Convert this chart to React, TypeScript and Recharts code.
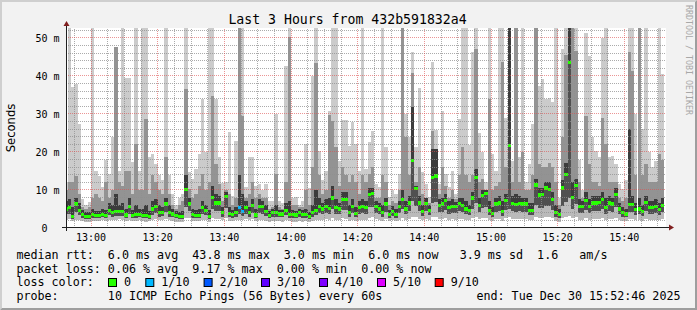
import React from 'react';
import { ComposedChart, Bar, Cell, XAxis, YAxis, CartesianGrid, ReferenceLine } from 'recharts';

// one value per minute, 12:52:30 .. 15:52:30 (ms)
const median = [
  5.0, 5.3, 3.0, 6.3, 4.7, 3.5, 3.1, 3.0, 3.5, 3.2,
  3.2, 3.6, 3.3, 4.7, 4.1, 4.3, 4.3, 4.3, 3.4, 5.7,
  3.2, 3.6, 3.6, 3.3, 3.2, 3.1, 5.0, 5.7, 4.1, 4.1,
  6.3, 4.1, 3.7, 3.3, 3.1, 3.1, 10.1, 6.3, 3.5, 3.3,
  3.3, 5.4, 4.6, 3.1, 8.1, 6.6, 6.6, 4.1, 8.3, 3.9,
  3.5, 4.1, 5.3, 4.4, 5.4, 4.1, 5.9, 3.4, 5.6, 5.6,
  4.3, 3.3, 4.0, 4.0, 3.7, 3.7, 4.6, 3.5, 3.5, 3.4,
  4.0, 3.6, 3.6, 3.1, 4.1, 4.6, 5.7, 5.0, 5.6, 5.2,
  7.9, 5.4, 5.0, 7.5, 7.4, 4.1, 5.6, 3.9, 5.3, 5.6,
  5.4, 8.8, 9.1, 5.6, 5.0, 4.1, 6.3, 3.5, 4.4, 3.5,
  5.6, 7.6, 5.0, 6.6, 17.7, 10.3, 6.6, 4.4, 6.5, 4.7,
  13.2, 13.7, 5.9, 6.3, 7.2, 5.4, 5.6, 5.6, 6.5, 5.9,
  5.0, 4.6, 7.9, 13.2, 5.9, 8.5, 9.0, 4.6, 3.9, 6.3,
  6.6, 4.3, 7.2, 21.7, 6.5, 6.1, 6.5, 6.3, 6.3, 4.7,
  4.7, 11.3, 8.7, 8.8, 10.5, 10.1, 7.4, 4.1, 3.5, 10.5,
  14.0, 43.6, 8.1, 11.2, 5.6, 5.7, 7.2, 5.7, 6.6, 6.6,
  6.8, 7.4, 5.4, 6.6, 6.3, 8.8, 5.0, 4.1, 3.7, 6.1,
  6.1, 4.8, 5.0, 4.4, 6.8, 5.4, 5.4, 5.6, 4.8, 5.9,
];

const smokeMin = [
  2.2, 2.4, 1.8, 2.0, 2.1, 1.9, 1.7, 1.6, 1.8, 1.9,
  1.8, 2.0, 1.9, 2.2, 2.0, 2.1, 2.3, 2.0, 1.9, 2.2,
  1.8, 1.9, 2.0, 1.8, 1.7, 1.8, 2.1, 2.4, 2.0, 2.1,
  2.4, 2.0, 1.8, 1.7, 1.6, 1.7, 2.6, 2.5, 1.9, 1.8,
  1.8, 2.1, 2.0, 1.7, 2.6, 2.4, 2.3, 2.0, 2.5, 1.9,
  1.8, 2.0, 2.2, 2.0, 2.3, 2.0, 2.4, 1.8, 2.2, 2.1,
  1.9, 1.7, 1.8, 1.9, 1.8, 1.7, 2.0, 1.8, 1.7, 1.7,
  1.8, 1.7, 1.8, 1.6, 1.9, 2.0, 2.2, 2.1, 2.3, 2.2,
  2.6, 2.2, 2.1, 2.5, 2.4, 1.9, 2.1, 1.8, 2.0, 2.2,
  2.2, 2.7, 2.8, 2.3, 2.1, 1.9, 2.3, 1.8, 2.0, 1.8,
  2.2, 2.6, 2.1, 2.4, 3.0, 2.8, 2.4, 2.0, 2.3, 2.0,
  2.9, 3.0, 2.3, 2.4, 2.6, 2.2, 2.3, 2.2, 2.4, 2.3,
  2.1, 2.0, 2.5, 2.9, 2.3, 2.6, 2.7, 2.0, 1.8, 2.3,
  2.4, 1.9, 2.5, 3.0, 2.4, 2.3, 2.4, 2.3, 2.4, 2.0,
  2.0, 2.8, 2.6, 2.6, 2.8, 2.8, 2.5, 1.9, 1.7, 2.7,
  3.0, 3.2, 2.6, 2.8, 2.2, 2.1, 2.5, 2.2, 2.4, 2.4,
  2.4, 2.5, 2.2, 2.4, 2.3, 2.6, 2.1, 1.9, 1.8, 2.3,
  2.3, 2.0, 2.1, 1.9, 2.4, 2.1, 2.1, 2.2, 2.0, 2.3,
];

const darkLow = [
  3.6, 3.8, 2.4, 4.2, 3.4, 2.7, 2.4, 2.3, 2.6, 2.5,
  2.5, 2.8, 2.6, 3.4, 3.0, 3.1, 3.2, 3.1, 2.6, 3.8,
  2.5, 2.7, 2.8, 2.6, 2.5, 2.4, 3.5, 4.0, 3.0, 3.1,
  4.3, 3.0, 2.8, 2.5, 2.3, 2.4, 5.5, 4.4, 2.6, 2.5,
  2.5, 3.8, 3.3, 2.4, 5.0, 4.5, 4.4, 3.0, 5.2, 2.9,
  2.6, 3.0, 3.7, 3.2, 3.8, 3.0, 4.0, 2.6, 3.9, 3.8,
  3.1, 2.5, 2.9, 2.9, 2.8, 2.8, 3.3, 2.7, 2.6, 2.6,
  2.9, 2.7, 2.7, 2.4, 3.0, 3.3, 4.0, 3.6, 3.9, 3.7,
  5.0, 3.8, 3.6, 4.8, 4.8, 3.0, 3.9, 2.9, 3.8, 3.9,
  3.8, 5.4, 5.6, 3.9, 3.6, 3.0, 4.3, 2.7, 3.2, 2.6,
  3.9, 4.9, 3.6, 4.5, 7.0, 5.8, 4.5, 3.2, 4.4, 3.4,
  6.5, 6.8, 4.1, 4.3, 4.7, 3.8, 3.9, 3.9, 4.4, 4.1,
  3.6, 3.3, 5.0, 6.6, 4.1, 5.3, 5.5, 3.3, 2.9, 4.3,
  4.5, 3.1, 4.7, 5.0, 4.4, 4.2, 4.4, 4.3, 4.3, 3.4,
  3.4, 6.0, 5.3, 5.3, 5.9, 5.8, 4.8, 3.0, 2.6, 5.9,
  6.8, 8.0, 5.0, 6.2, 3.9, 3.9, 4.7, 3.9, 4.5, 4.5,
  4.6, 4.9, 3.8, 4.5, 4.3, 5.4, 3.6, 3.0, 2.8, 4.2,
  4.2, 3.5, 3.6, 3.2, 4.6, 3.8, 3.8, 3.9, 3.5, 4.1,
];

const darkHigh = [
  7, 7.5, 5.5, 8, 6.5, 4.8, 4.3, 4.2, 5, 4.5,
  4.6, 5, 4.8, 6.5, 6, 9, 6, 6.5, 5, 8,
  4.8, 6, 5, 5, 6, 4.5, 7, 7.5, 6, 5.5,
  8, 6, 5, 4.5, 4.3, 4.5, 14, 8, 5, 4.8,
  5, 7, 6, 4.8, 11, 9, 8.5, 5.5, 9.5, 5.5,
  4.8, 5.5, 14, 9, 7, 5.5, 7.5, 5, 7.5, 7,
  6, 4.5, 5, 6, 4.8, 4.8, 6.5, 7, 4.8, 4.6,
  5, 4.8, 5, 4.3, 6, 10, 8, 6.5, 7.5, 8,
  11, 7.5, 6.5, 9.5, 9.5, 6, 7.5, 5.5, 7, 7.5,
  7, 10.5, 10.5, 7, 6.5, 6, 8, 4.8, 5.8, 5,
  7, 10, 7, 8.5, 31.9, 11, 8.5, 6, 8, 6,
  20.8, 20.8, 7.5, 8, 9, 7, 7.5, 6.8, 8, 8,
  7, 6, 9.5, 15.5, 8, 10, 10, 7, 5.5, 8,
  8.5, 7, 9, 53, 8.5, 9, 8.5, 8, 8, 6.5,
  6.5, 13, 10.5, 10.5, 12, 12, 9.5, 6, 5, 12.5,
  17, 53, 12, 13, 7.5, 7, 9.5, 7.5, 8.5, 8.5,
  8.5, 9.5, 8, 8.5, 8, 10.5, 6.5, 5.5, 5, 26,
  8.5, 6.5, 8, 6, 8.5, 7, 7, 7.5, 6.5, 8,
];

const midHigh = [
  10, 12, 12, 13.8, 9, 5.5, 5, 5.5, 8, 9,
  8, 7, 12, 8, 10, 47.5, 12, 11, 15, 15,
  9, 22, 10, 10, 28.8, 9, 14, 12, 10, 9,
  18.6, 9, 6, 5, 6, 7, 36.6, 10.3, 8, 9,
  11, 14.2, 10, 12, 34.8, 16.9, 11.6, 7, 10, 9,
  6, 8, 53, 29.5, 8, 9, 12, 8, 9, 8,
  8, 5, 5.5, 14.2, 5.5, 5, 12, 50.3, 6, 6,
  5.5, 5.5, 10, 6, 16, 43.3, 14, 9, 10, 29.8,
  28.1, 21.2, 11, 16, 14, 12, 14, 12, 9, 14,
  12, 14.2, 16, 8, 8, 14, 12, 6, 7, 6.5,
  10, 53, 23.9, 14, 40.9, 12, 16, 9, 8, 6.5,
  25.6, 20.8, 9, 16, 11, 8, 10, 7.5, 14, 21.2,
  14, 12, 14, 47, 12, 13, 10, 34, 10, 11,
  12, 43.8, 16, 53, 12, 53, 12, 20, 10, 10,
  14, 53, 16.8, 16, 16, 17, 16, 12, 6, 24,
  45.5, 53, 53, 46.7, 12, 8, 29.5, 16.8, 12, 12,
  11, 29, 22, 12, 12, 12, 8, 7, 8, 46.2,
  41.4, 14, 53, 14, 16.8, 12, 12, 12, 19.5, 18,
];

const smokeMax = [
  12, 53, 37.2, 37.9, 27.4, 7.5, 6.0, 6.8, 53, 15.1,
  13.8, 10.7, 17.9, 14.2, 23.9, 47.5, 15.1, 53, 39.6, 39.6,
  17.3, 53, 15.1, 53, 53, 18.6, 19.5, 16.8, 14.0, 12.5,
  53, 14.0, 9.0, 6.0, 8.0, 9.0, 53, 14.7, 13.0, 15.4,
  19.6, 34.0, 19.9, 53, 53, 34.0, 18.6, 11.8, 12.0, 25.2,
  8.5, 23.0, 53, 53, 10.7, 18.6, 18.6, 11.0, 11.6, 10.0,
  11.6, 7.0, 7.0, 30.0, 7.0, 6.5, 42.6, 53, 8.0, 8.2,
  6.0, 7.0, 22.1, 10.4, 40.1, 53, 20.3, 12.5, 15.1, 30.7,
  53, 53, 17.7, 28.3, 28.3, 21.7, 27.8, 22.1, 15.1, 53,
  15.5, 22.5, 25.6, 11.6, 10.7, 53, 21.2, 8.1, 10.0, 9.0,
  14.2, 53, 30.0, 23.9, 46.3, 21.2, 36.8, 14.7, 11.6, 8.1,
  43.6, 25.8, 11.6, 30.8, 14.2, 10.7, 15.1, 9.0, 28.8, 53,
  53, 21.9, 46.4, 53, 25.0, 20.0, 12.0, 53, 19.5, 15.0,
  53, 53, 29.0, 53, 17.7, 53, 18.6, 53, 12.0, 16.8,
  27.4, 53, 37.4, 39.2, 34.0, 34.1, 33.1, 53, 8.0, 47.0,
  53, 53, 53, 53, 18.0, 10.0, 51.2, 45.3, 23.9, 20.3,
  18.6, 49.9, 53, 18.6, 19.0, 16.8, 11.6, 10.3, 12.5, 53,
  53, 30.0, 53, 26.0, 53, 20.0, 16.0, 17.7, 53, 40.5,
];

// minutes that lost 1 of 10 pings
const lossOneTenth = [52, 53];

const tickMinutes = [7.5, 27.5, 47.5, 67.5, 87.5, 107.5, 127.5, 147.5, 167.5];
const tickLabels = ['13:00', '13:20', '13:40', '14:00', '14:20', '14:40', '15:00', '15:20', '15:40'];
const yTicks = [0, 10, 20, 30, 40, 50];

const lossLabels = ['0', '1/10', '2/10', '3/10', '4/10', '5/10', '9/10'];
const lossColors = ['#26ff00', '#00b8ff', '#0059ff', '#5e00ff', '#7e00ff', '#dd00ff', '#ff0000'];

const MONO = "'DejaVu Sans Mono', monospace";
const GREEN_H = 0.85;
const STEP_PX = 600 / 180;

const data = median.map((m, i) => {
  const g0 = m - GREEN_H / 2;
  const g1 = m + GREEN_H / 2;
  const lo = Math.min(smokeMin[i], g0);
  const dlo = Math.max(lo, Math.min(darkLow[i], g0));
  const dhi = Math.max(darkHigh[i], g1);
  const mhi = Math.max(midHigh[i], dhi);
  const hi = Math.max(smokeMax[i], mhi);
  return {
    t: i,
    base: lo,
    s1: dlo - lo,
    s2: g0 - dlo,
    green: GREEN_H,
    s4: dhi - g1,
    s5: mhi - dhi,
    s6: hi - mhi,
  };
});

const minorX: number[] = [];
for (let m = 2.5; m < 180; m += 5) if (!tickMinutes.includes(m)) minorX.push(m);
const minorY: number[] = [];
for (let v = 2; v <= 52; v += 2) if (v % 10 !== 0) minorY.push(v);
const majorY = [10, 20, 30, 40, 50];

const crisp = (v: number) => Math.floor(v) + 0.5;

// snap each step to whole pixels so neighbouring minutes meet without seams
const StepRect = (p: any) => {
  if (!p.height || p.height <= 0) return <g />;
  const c = p.x + p.width / 2;
  const l = Math.round(c - STEP_PX / 2);
  const r = Math.round(c + STEP_PX / 2);
  const t = Math.round(p.y);
  const b = Math.round(p.y + p.height);
  if (b <= t) return <g />;
  return <rect x={l} y={t} width={r - l} height={b - t} fill={p.fill} />;
};

const hLine = (color: string) => (p: any) => (
  <line x1={p.x1} x2={p.x2} y1={crisp(p.y1)} y2={crisp(p.y2)} stroke={color} strokeWidth={1} strokeDasharray="1 1" />
);
const vLine = (color: string) => (p: any) => (
  <line x1={crisp(p.x1)} x2={crisp(p.x2)} y1={p.y1} y2={p.y2} stroke={color} strokeWidth={1} strokeDasharray="1 1" />
);

const MINOR = 'rgba(143,143,143,0.75)';
const MAJOR = 'rgba(222,79,79,0.6)';

const YTick = ({ y, payload }: any) => (
  <g>
    <text x={47.6} y={y} dy={3.6} textAnchor="end" fontFamily={MONO} fontSize={10} fill="#000">
      {payload.value}
    </text>
    {payload.value !== 0 && (
      <text x={53.6} y={y} dy={3.6} fontFamily={MONO} fontSize={10} fill="#000">m</text>
    )}
  </g>
);

const XTick = ({ x, payload }: any) => (
  <text x={x} y={241} textAnchor="middle" fontFamily={MONO} fontSize={10} fill="#000">
    {tickLabels[tickMinutes.indexOf(payload.value)]}
  </text>
);

const boxX = [108.5, 145.8, 204.1, 261.5, 319.5, 377.5, 435.2];
const rowY = [259, 272.7, 286.4, 300.1];

export default function App() {
  return (
    <div style={{ position: 'absolute', left: 0, top: 0, width: 697, height: 310, background: '#f2f2f2' }}>
      <ComposedChart
        width={697}
        height={310}
        data={data}
        margin={{ top: 28, right: 31, bottom: 68, left: 6 }}
        barSize={3}
        barGap={0}
        barCategoryGap={0}
      >
        <CartesianGrid fill="#ffffff" horizontal={false} vertical={false} stroke="none" />
        <XAxis
          type="number"
          dataKey="t"
          domain={[0, 180]}
          ticks={tickMinutes}
          interval={0}
          allowDataOverflow
          axisLine={false}
          tickLine={false}
          height={14}
          tick={<XTick />}
        />
        <YAxis
          type="number"
          domain={[0, 52.63]}
          ticks={yTicks}
          interval={0}
          allowDataOverflow
          axisLine={false}
          tickLine={false}
          width={60}
          tick={<YTick />}
        />
        <Bar dataKey="base" stackId="s" fill="#ffffff" fillOpacity={0} isAnimationActive={false} />
        <Bar dataKey="s1" stackId="s" fill="#bababa" shape={StepRect} isAnimationActive={false} />
        <Bar dataKey="s2" stackId="s" fill="#505050" shape={StepRect} isAnimationActive={false} />
        <Bar dataKey="green" stackId="s" fill={lossColors[0]} shape={StepRect} isAnimationActive={false}>
          {data.map((d) => (
            <Cell key={d.t} fill={lossOneTenth.includes(d.t) ? lossColors[1] : lossColors[0]} />
          ))}
        </Bar>
        <Bar dataKey="s4" stackId="s" fill="#3c3c3c" shape={StepRect} isAnimationActive={false} />
        <Bar dataKey="s5" stackId="s" fill="#939393" shape={StepRect} isAnimationActive={false} />
        <Bar dataKey="s6" stackId="s" fill="#cbcbcb" shape={StepRect} isAnimationActive={false} />
        {minorY.map((v) => (
          <ReferenceLine key={'my' + v} y={v} shape={hLine(MINOR)} />
        ))}
        {minorX.map((v) => (
          <ReferenceLine key={'mx' + v} x={v} shape={vLine(MINOR)} />
        ))}
        {majorY.map((v) => (
          <ReferenceLine key={'My' + v} y={v} shape={hLine(MAJOR)} />
        ))}
        {tickMinutes.map((v) => (
          <ReferenceLine key={'Mx' + v} x={v} shape={vLine(MAJOR)} />
        ))}
      </ComposedChart>

      <svg width={697} height={310} style={{ position: 'absolute', left: 0, top: 0, pointerEvents: 'none' }}>
        <polygon points="0,0 697,0 695,2 2,2 2,308 0,310" fill="#cfcfcf" />
        <polygon points="697,0 697,310 0,310 2,308 695,308 695,2" fill="#9e9e9e" />

        <line x1={62} x2={670} y1={227.5} y2={227.5} stroke="#1f1f1f" strokeWidth={1} />
        <line x1={66.5} x2={66.5} y1={231} y2={23} stroke="#1f1f1f" strokeWidth={1} />
        <polygon points="669,224.5 669,230.5 674,227.5" fill="#801f1f" />
        <polygon points="63.5,26 69.5,26 66.5,21" fill="#801f1f" />

        <text x={347.5} y={23.6} textAnchor="middle" fontFamily={MONO} fontSize={13.2} fill="#000">
          Last 3 Hours from 432b591832a4
        </text>
        <text
          x={15}
          y={128}
          transform="rotate(-90 15 128)"
          textAnchor="middle"
          fontFamily="'DejaVu Sans', sans-serif"
          fontSize={11.6}
          fill="#000"
        >
          Seconds
        </text>
        <text
          x={685.5}
          y={5}
          transform="rotate(90 685.5 5)"
          fontFamily={MONO}
          fontSize={8.3}
          fill="#a8a8a8"
        >
          RRDTOOL / TOBI OETIKER
        </text>

        <g fontFamily={MONO} fontSize={11.7} fill="#000" style={{ whiteSpace: 'pre' }}>
          <text x={16.4} y={rowY[0]} xmlSpace="preserve">
            {'median rtt:  6.0 ms avg  43.8 ms max  3.0 ms min  6.0 ms now   3.9 ms sd  1.6   am/s'}
          </text>
          <text x={16.4} y={rowY[1]} xmlSpace="preserve">
            {'packet loss: 0.06 % avg  9.17 % max  0.00 % min  0.00 % now'}
          </text>
          <text x={16.4} y={rowY[2]} xmlSpace="preserve">
            {'loss color:'}
          </text>
          {lossLabels.map((l, i) => (
            <g key={l}>
              <rect x={boxX[i]} y={278.5} width={8} height={8} fill={lossColors[i]} stroke="#000" strokeWidth={1} />
              <text x={boxX[i] + 15.5} y={rowY[2]}>{l}</text>
            </g>
          ))}
          <text x={16.4} y={rowY[3]} xmlSpace="preserve">
            {'probe:       10 ICMP Echo Pings (56 Bytes) every 60s'}
          </text>
          <text x={680.5} y={rowY[3]} textAnchor="end" xmlSpace="preserve">
            {'end: Tue Dec 30 15:52:46 2025'}
          </text>
        </g>
      </svg>
    </div>
  );
}
